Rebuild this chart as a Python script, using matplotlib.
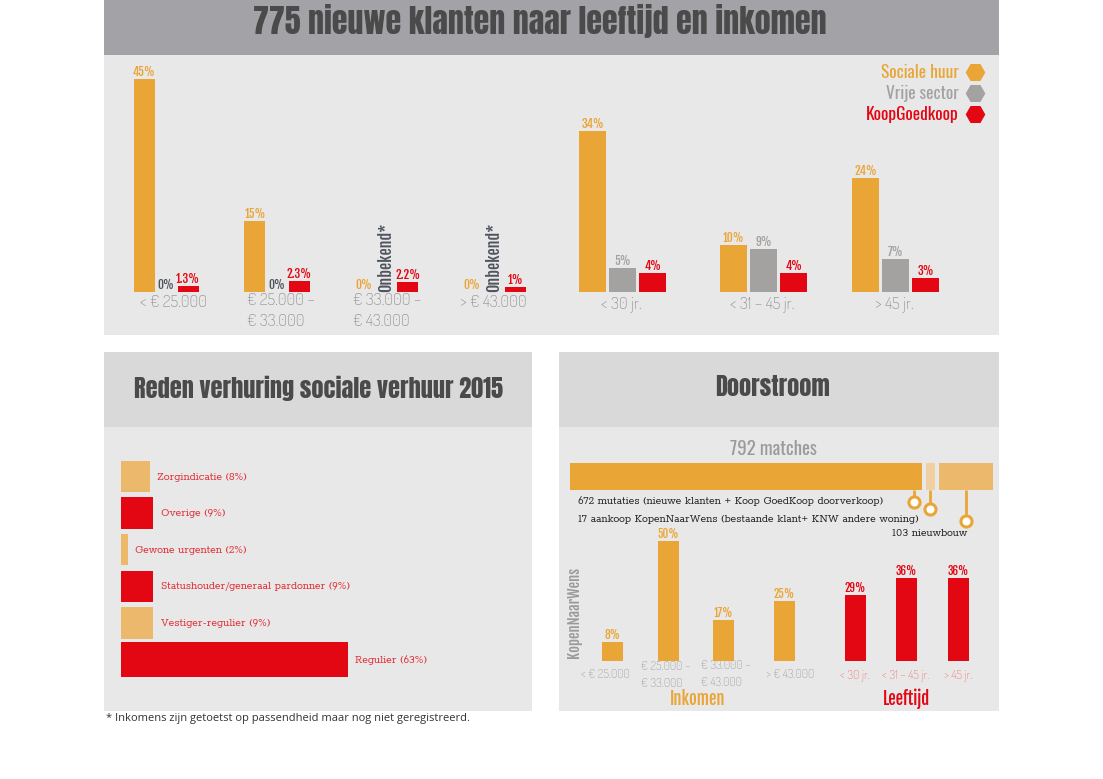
import matplotlib
matplotlib.use("Agg")
import matplotlib.pyplot as plt
from matplotlib.patches import Rectangle

# --- data ---------------------------------------------------------------
income_cats = ["< € 25.000", "€ 25.000 –\n€ 33.000", "€ 33.000 –\n€ 43.000", "> € 43.000"]
age_cats = ["< 30 jr.", "< 31 – 45 jr.", "> 45 jr."]
series = ["Sociale huur", "Vrije sector", "KoopGoedkoop"]

sociale_inc = [45, 15, 0, 0]
vrije_inc = [0, 0, None, None]          # None = onbekend
koop_inc = [1.3, 2.3, 2.2, 1]
sociale_age = [34, 10, 24]
vrije_age = [5, 9, 7]
koop_age = [4, 4, 3]

reden_labels = ["Zorgindicatie", "Overige", "Gewone urgenten",
                "Statushouder/generaal pardonner", "Vestiger-regulier", "Regulier"]
reden_values = [8, 9, 2, 9, 9, 63]

match_total = 792
match_values = [672, 17, 103]
match_texts = ["672 mutaties (nieuwe klanten + Koop GoedKoop doorverkoop)",
               "17 aankoop KopenNaarWens (bestaande klant+ KNW andere woning)",
               "103 nieuwbouw"]

knw_income = [8, 50, 17, 25]
knw_age = [29, 36, 36]

# --- style --------------------------------------------------------------
ORANGE = "#eaa537"
LORANGE = "#ecb86b"
PALE = "#f0d0a2"
GRAY = "#a3a2a0"
RED = "#e30613"
SLATE = "#50545f"
TXTGRAY = "#8f8f8f"
IMPACT = ["Anton", "DejaVu Sans"]
COND = ["Oswald", "DejaVu Sans"]
BOLDC = ["Fjalla One", "DejaVu Sans"]
SLAB = ["Rokkitt", "DejaVu Serif"]
LIGHT = ["Dosis", "DejaVu Sans"]

W, H = 1103, 779
fig = plt.figure(figsize=(W / 100, H / 100), dpi=100)
fig.patch.set_facecolor("white")


def px_axes(x0, y0, x1, y1):
    # pixel box (y down) -> figure axes
    a = fig.add_axes([x0 / W, 1 - y1 / H, (x1 - x0) / W, (y1 - y0) / H])
    a.set_axis_off()
    a.patch.set_alpha(0)
    return a


bg = px_axes(0, 0, W, H)
bg.set_xlim(0, W)
bg.set_ylim(H, 0)

# panels
for (x0, y0, x1, y1, c) in [(104, 0, 999, 55, "#a3a2a7"), (104, 55, 999, 335, "#e8e8e8"),
                            (104, 352, 532, 427, "#d9d9d9"), (104, 427, 532, 711, "#e8e8e8"),
                            (559, 352, 999, 427, "#d9d9d9"), (559, 427, 999, 711, "#e8e8e8")]:
    bg.add_patch(Rectangle((x0, y0), x1 - x0, y1 - y0, color=c, lw=0))

bg.text(540, 21, "775 nieuwe klanten naar leeftijd en inkomen", ha="center", va="center",
        fontsize=23, color="#4a4a4a", family=IMPACT)
bg.text(318, 388, "Reden verhuring sociale verhuur 2015", ha="center", va="center",
        fontsize=17.5, color="#4a4a4a", family=IMPACT)
bg.text(772, 387, "Doorstroom", ha="center", va="center",
        fontsize=17.5, color="#4a4a4a", family=IMPACT)
bg.text(106, 718, "* Inkomens zijn getoetst op passendheid maar nog niet geregistreerd.",
        ha="left", va="center", fontsize=8, color="#333333", family=["Open Sans", "DejaVu Sans"])

# --- top chart ----------------------------------------------------------
ax = px_axes(104, 79, 999, 292)
ax.set_xlim(104, 999)
ax.set_ylim(0, 45)

inc_centers = [166, 277, 386, 494]
age_centers = [623, 764, 896]
colors = [ORANGE, GRAY, RED]


def lab(a, x, v, color, fs=8.5, y=None):
    y = v if y is None else y
    a.text(x, y, f"{v:g}%", ha="center", va="bottom", fontsize=fs,
           color=color, family=BOLDC)


for k, vals in enumerate([sociale_inc, vrije_inc, koop_inc]):
    for i, v in enumerate(vals):
        x = inc_centers[i] + (k - 1) * 22
        if v is None:
            ax.text(x, 0, "Onbekend*", rotation=90, ha="center", va="bottom",
                    fontsize=11.5, color=SLATE, family=BOLDC)
            continue
        ax.bar(x, v, width=21, color=colors[k])
        c = SLATE if k == 1 else colors[k]
        lab(ax, x, v, c)

for k, vals in enumerate([sociale_age, vrije_age, koop_age]):
    for i, v in enumerate(vals):
        x = age_centers[i] + (k - 1) * 30
        ax.bar(x, v, width=27, color=colors[k])
        lab(ax, x, v, colors[k])

tfs = 12
bg.text(173, 302, income_cats[0], ha="center", va="center", fontsize=tfs, color=TXTGRAY, family=LIGHT)
bg.text(247, 311, income_cats[1], ha="left", va="center", fontsize=tfs, color=TXTGRAY,
        family=LIGHT, linespacing=1.35)
bg.text(353, 311, income_cats[2], ha="left", va="center", fontsize=tfs, color=TXTGRAY,
        family=LIGHT, linespacing=1.35)
bg.text(493, 302, income_cats[3], ha="center", va="center", fontsize=tfs, color=TXTGRAY, family=LIGHT)
for c, t in zip(age_centers, age_cats):
    bg.text(c - 2, 304, t, ha="center", va="center", fontsize=tfs, color=TXTGRAY, family=LIGHT)

# legend
for j, (name, c) in enumerate(zip(series, [ORANGE, GRAY, RED])):
    y = 72 + j * 21
    bg.text(959, y, name, ha="right", va="center", fontsize=12.5, color=c, family=COND)
    bg.plot(975, y, marker="H", markersize=13, color=c, mec=c)

# --- bottom left: reden -------------------------------------------------
ab = px_axes(121, 458, 348, 678)
ab.set_xlim(0, 63)
ab.set_ylim(5.5, -0.5)
rcols = [LORANGE, RED] * 3
for i, (l, v) in enumerate(zip(reden_labels, reden_values)):
    ab.barh(i, v, height=0.85 if i < 5 else 0.95, color=rcols[i])
    ab.text(v + 2, i, f"{l} ({v}%)", ha="left", va="center", fontsize=8.6,
            color="#e3343b", family=SLAB, clip_on=False)

# --- bottom right: matches ----------------------------------------------
bg.text(773, 449, f"{match_total} matches", ha="center", va="center", fontsize=13.5,
        color="#9a9a9a", family=COND)
am = px_axes(570, 460, 993, 530)
gaps = [0, 8, 16]
am.set_xlim(0, match_total + gaps[-1])
am.set_ylim(530, 460)
mcols = [ORANGE, PALE, LORANGE]
left = 0
circ_y = [502, 509, 521]
for i, v in enumerate(match_values):
    l = left + gaps[i]
    am.barh(476.5, v, left=l, height=27, color=mcols[i])
    xm = l + v - 15 if i == 0 else l + v / 2
    am.plot([xm, xm], [490, circ_y[i]], color=ORANGE, lw=2, solid_capstyle="butt")
    am.plot(xm, circ_y[i], marker="o", markersize=8, mfc="white", mec=ORANGE, mew=2.2)
    left += v
bg.text(578, 501, match_texts[0], ha="left", va="center", fontsize=8.6, color="#2b2b2b", family=SLAB)
bg.text(578, 519, match_texts[1], ha="left", va="center", fontsize=8.6, color="#2b2b2b", family=SLAB)
bg.text(930, 533, match_texts[2], ha="center", va="center", fontsize=8.6, color="#2b2b2b", family=SLAB)

# --- bottom right: KopenNaarWens ----------------------------------------
ak = px_axes(580, 541, 990, 661)
ak.set_xlim(580, 990)
ak.set_ylim(0, 50)
kinc_x = [612, 668, 723, 784]
kage_x = [855, 906, 958]
for x, v in zip(kinc_x, knw_income):
    ak.bar(x, v, width=21, color=ORANGE)
    lab(ak, x, v, ORANGE, fs=8)
for x, v in zip(kage_x, knw_age):
    ak.bar(x, v, width=21, bottom=-1.5, color=RED)
    lab(ak, x, v, RED, fs=8, y=v - 1.5)

sfs = 8.8
bg.text(605, 675, income_cats[0], ha="center", va="center", fontsize=sfs, color="#a0a0a0", family=LIGHT)
bg.text(641, 675, income_cats[1], ha="left", va="center", fontsize=sfs, color="#a0a0a0",
        family=LIGHT, linespacing=1.35)
bg.text(701, 674, income_cats[2], ha="left", va="center", fontsize=sfs, color="#a0a0a0",
        family=LIGHT, linespacing=1.35)
bg.text(790, 675, income_cats[3], ha="center", va="center", fontsize=sfs, color="#a0a0a0", family=LIGHT)
for x, t in zip(kage_x, age_cats):
    bg.text(x, 675, t, ha="center", va="center", fontsize=sfs, color="#f07a7a", family=LIGHT)

bg.text(698, 699, "Inkomen", ha="center", va="center", fontsize=12,
        color=ORANGE, family=BOLDC)
bg.text(907, 699, "Leeftijd", ha="center", va="center", fontsize=12,
        color=RED, family=BOLDC)
bg.text(574, 613, "KopenNaarWens", rotation=90, ha="center", va="center", fontsize=10.5,
        color="#9a9a9a", family=BOLDC)

fig.savefig("out.png", dpi=100, facecolor="white")
